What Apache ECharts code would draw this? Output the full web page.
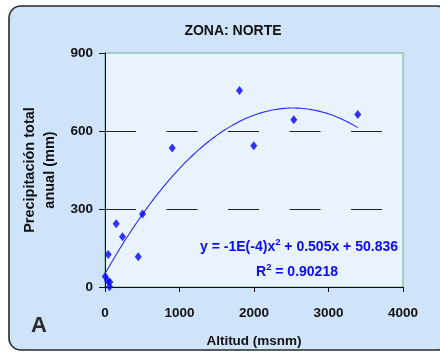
<!DOCTYPE html>
<html>
<head>
<meta charset="utf-8">
<script src="https://cdn.jsdelivr.net/npm/echarts@6/dist/echarts.min.js"></script>
<style>
  html, body { margin: 0; padding: 0; background: #ffffff; }
  #chart { width: 440px; height: 353px; }
</style>
</head>
<body>
<div id="chart"></div>
<script>
// Altitude (m a.s.l.) and total annual precipitation (mm), northern zone stations
const altitude = [3, 34, 64, 60, 43, 150, 235, 446, 503, 902, 1805, 1997, 2534, 3393];
const precipitation = [40, 24, 19, 1, 125, 243, 193, 116, 281, 535, 756, 543, 643, 663];

// Polynomial trendline coefficients (a*x^2 + b*x + c) and its fit quality
const trendCoef = [-0.0001, 0.505, 50.836];
const trendR2 = '0.90218';

const xTicks = [0, 1000, 2000, 3000, 4000];
const yTicks = [0, 300, 600, 900];

const points = altitude.map((x, i) => [x, precipitation[i]]);

// sample the trendline across the observed altitude range
const xMax = Math.max(...altitude);
const trend = [];
for (let i = 0; i <= 120; i++) {
  const x = xMax * i / 120;
  trend.push([x, trendCoef[0] * x * x + trendCoef[1] * x + trendCoef[2]]);
}

const chart = echarts.init(document.getElementById('chart'), null, { renderer: 'canvas' });
const FONT = 'Liberation Sans, Arial, sans-serif';
const bold = { fontFamily: FONT, fontWeight: 'bold' };
const blue = '#0a0aff';
const plain = v => String(v);

chart.setOption({
  backgroundColor: '#ffffff',
  animation: false,
  graphic: [
    {
      type: 'rect', z: -10, silent: true,
      shape: { x: 9, y: 6, width: 440, height: 344, r: 12 },
      style: { fill: '#cfe4f9', stroke: '#2a2a2a', lineWidth: 1.6 }
    },
    {
      type: 'text', left: 31, top: 315, silent: true,
      style: { text: 'A', fill: '#2b2b2b', font: 'bold 22px ' + FONT }
    },
    {
      type: 'text', silent: true, z: 10,
      x: 398, y: 247,
      style: {
        text: '{a|y = -1E(-4)x}{s|2}{a| + 0.505x + 50.836}',
        align: 'right', verticalAlign: 'middle',
        rich: {
          a: { fill: blue, font: 'bold 14px ' + FONT },
          s: { fill: blue, font: 'bold 9.5px ' + FONT, padding: [0, 0, 10, 0] }
        }
      }
    },
    {
      type: 'text', silent: true, z: 10,
      x: 297, y: 272,
      style: {
        text: '{a|R}{s|2}{a| = ' + trendR2 + '}',
        align: 'center', verticalAlign: 'middle',
        rich: {
          a: { fill: blue, font: 'bold 14px ' + FONT },
          s: { fill: blue, font: 'bold 9.5px ' + FONT, padding: [0, 0, 10, 0] }
        }
      }
    }
  ],
  title: {
    text: 'ZONA: NORTE',
    left: 228, top: 19, textAlign: 'center',
    textStyle: Object.assign({ fontSize: 14, color: '#111', letterSpacing: -0.6 }, bold)
  },
  grid: {
    left: 105, right: 37, top: 53, bottom: 66,
    show: true, backgroundColor: '#e8f3fd',
    borderColor: '#6fb08c', borderWidth: 1
  },
  xAxis: {
    type: 'value', min: xTicks[0], max: xTicks[xTicks.length - 1], interval: 1000,
    name: 'Altitud (msnm)', nameLocation: 'middle', nameGap: 47,
    nameTextStyle: Object.assign({ fontSize: 13.5, color: '#111' }, bold),
    axisLine: { show: true, lineStyle: { color: '#111', width: 1 } },
    axisTick: { show: true, inside: false, length: 5, lineStyle: { color: '#111' } },
    axisLabel: Object.assign({ fontSize: 13.5, color: '#111', margin: 19, formatter: plain }, bold),
    splitLine: { show: false }
  },
  yAxis: {
    type: 'value', min: yTicks[0], max: yTicks[yTicks.length - 1], interval: 300,
    name: 'Precipitación total\nanual (mm)', nameLocation: 'middle', nameGap: 36,
    nameTextStyle: Object.assign({ fontSize: 14.5, color: '#111', lineHeight: 20, letterSpacing: 0.3 }, bold),
    axisLine: { show: true, lineStyle: { color: '#111', width: 1 } },
    axisTick: { show: true, inside: false, length: 6, lineStyle: { color: '#111' } },
    axisLabel: Object.assign({ fontSize: 13.5, color: '#111', margin: 12, formatter: plain }, bold),
    splitLine: {
      show: true, showMinLine: false, showMaxLine: false,
      lineStyle: { color: '#222', width: 1, type: [31, 30.5] }
    }
  },
  series: [
    {
      type: 'line', data: trend, showSymbol: false, smooth: false,
      lineStyle: { color: '#2a2aff', width: 1.1 }, z: 2, silent: true
    },
    {
      type: 'scatter', data: points, symbol: 'diamond', symbolSize: [7, 9],
      itemStyle: { color: '#0000ff' }, z: 3
    }
  ]
});
</script>
</body>
</html>
